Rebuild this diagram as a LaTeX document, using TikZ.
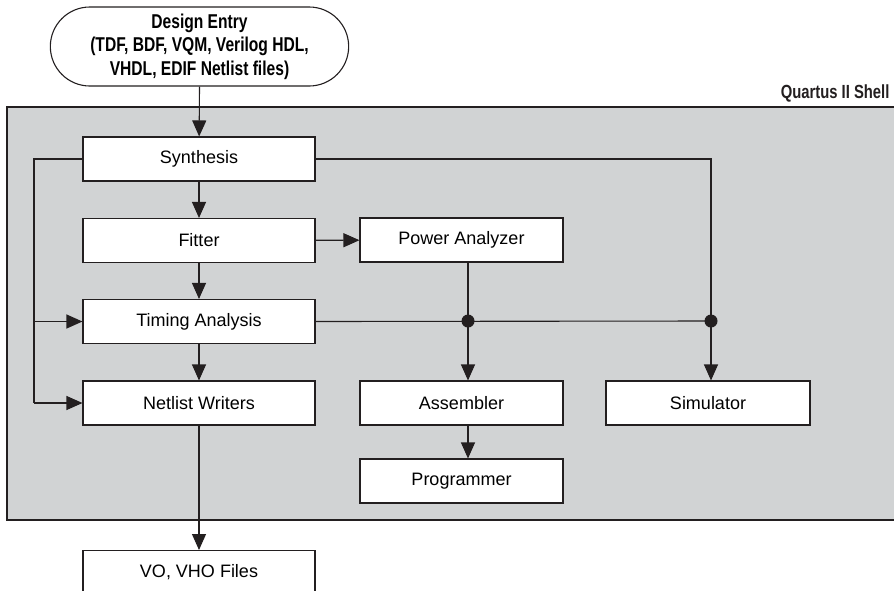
\documentclass[tikz,border=0pt]{standalone}
\usepackage{fontspec}
\setmainfont{Liberation Sans}
\newfontfamily\condfont[FakeStretch=0.78]{Liberation Sans}
\usetikzlibrary{arrows.meta,shapes.misc}
\definecolor{shellgray}{RGB}{209,211,212}
\definecolor{linegray}{RGB}{35,31,32}
\tikzset{
	box/.style={draw=linegray, fill=white, line width=1.1pt, minimum width=232pt, minimum height=44pt, inner sep=0pt, font=\fontsize{18}{21}\selectfont},
	flow/.style={draw=linegray, line width=1.1pt, -{Triangle[length=16pt,width=14pt]}},
	wire/.style={draw=linegray, line width=1.1pt}
}
\begin{document}
\begin{tikzpicture}[x=1pt, y=-1pt]
		\useasboundingbox (0,0) rectangle (894,590);
		\fill[shellgray] (7,107) rectangle (900,520);
		\draw[linegray, line width=1.3pt] (900,107) -- (7,107) -- (7,520) -- (900,520);
		\node[anchor=base east, font=\condfont\bfseries\fontsize{19}{21}\selectfont, text=linegray] (shell) at (893,98) {Quartus II Shell};
		\node[rounded rectangle, draw=linegray, line width=1.1pt, fill=white, minimum width=305pt, minimum height=79pt, align=center, font=\condfont\bfseries\fontsize{20}{23.5}\selectfont] (entry) at (199.5,46.5) {Design Entry\\(TDF, BDF, VQM, Verilog HDL,\\VHDL, EDIF Netlist files)};
		\node[box] (synth) at (199,159) {Synthesis};
		\node[box] (fit) at (199,240.5) {Fitter};
		\node[box] (timing) at (199,321.5) {Timing Analysis};
		\node[box] (netlist) at (199,403) {Netlist Writers};
		\node[box, minimum width=203pt] (power) at (461.5,240) {Power Analyzer};
		\node[box, minimum width=203pt] (asm) at (461.5,403) {Assembler};
		\node[box, minimum width=203pt] (prog) at (461.5,481) {Programmer};
		\node[box, minimum width=204pt] (sim) at (708,403) {Simulator};
		\node[box, anchor=north] (vo) at (199,550) {VO, VHO Files};
		\coordinate (busl) at (34,159);
		\coordinate (dotpa) at (468,321);
		\coordinate (dotsim) at (711,321);
		% main chain
		\draw[flow] (entry.south) -- (synth);
		\draw[flow] (synth) -- (fit);
		\draw[flow] (fit) -- (timing);
		\draw[flow] (timing) -- (netlist);
		\draw[flow] (netlist) -- (vo);
		\draw[flow] (fit) -- (power);
		\draw[flow] (asm.south -| dotpa) -- (prog.north -| dotpa);
		% side bus from synthesis
		\draw[wire] (synth.west) -- (busl) -- (busl |- netlist);
		\draw[flow] (busl |- timing) -- (timing);
		\draw[flow] (busl |- netlist) -- (netlist);
		\draw[wire] (synth.east) -- (synth -| dotsim) -- (dotsim);
		\draw[wire] (timing.east) -- (dotsim);
		\draw[wire] (power.south -| dotpa) -- (dotpa);
		\draw[flow] (dotpa) -- (dotpa |- asm.north);
		\draw[flow] (dotsim) -- (dotsim |- sim.north);
		\fill[linegray] (dotpa) circle (6.5pt) (dotsim) circle (6.5pt);
		\end{tikzpicture}
\end{document}
